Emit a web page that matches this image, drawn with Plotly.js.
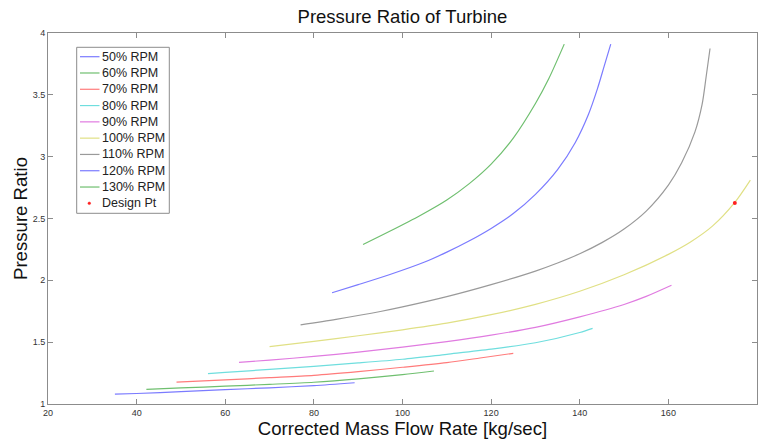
<!DOCTYPE html>
<html>
<head>
<meta charset="utf-8">
<script src="https://cdn.plot.ly/plotly-3.0.1.min.js"></script>
<style>html,body{margin:0;padding:0;background:#fff;}#chart{width:763px;height:439px;}</style>
</head>
<body>
<div id="chart"></div>
<script>
// ---- data ----
const seriesNames = ["50% RPM","60% RPM","70% RPM","80% RPM","90% RPM","100% RPM","110% RPM","120% RPM","130% RPM"];
const seriesColors = ["#7b7bff","#6fbf6f","#ff7b7b","#6fdede","#e07be0","#e0e085","#9a9a9a","#7b7bff","#6fbf6f"];

const rpm50_x = [35.1, 40, 50, 60, 70, 80, 89.2];
const rpm50_y = [1.080, 1.085, 1.100, 1.116, 1.131, 1.149, 1.172];

const rpm60_x = [42.2, 50, 60, 70, 80, 90, 100, 107.1];
const rpm60_y = [1.118, 1.130, 1.144, 1.159, 1.176, 1.203, 1.237, 1.267];

const rpm70_x = [49, 60, 70, 80, 90, 100, 110, 117.5, 125];
const rpm70_y = [1.177, 1.195, 1.213, 1.232, 1.262, 1.297, 1.335, 1.372, 1.410];

const rpm80_x = [56.1, 60, 70, 80, 90, 100, 110, 120, 130, 140, 142.9];
const rpm80_y = [1.246, 1.255, 1.280, 1.305, 1.332, 1.362, 1.402, 1.443, 1.495, 1.578, 1.612];

const rpm90_x = [63.1, 70, 80, 90, 100, 110, 120, 130, 140, 150, 155, 160.7];
const rpm90_y = [1.337, 1.355, 1.385, 1.420, 1.460, 1.505, 1.557, 1.620, 1.705, 1.805, 1.870, 1.960];

const rpm100_x = [70, 80, 90, 100, 110, 120, 130, 140, 150, 160, 165, 170, 175, 178.5];
const rpm100_y = [1.464, 1.507, 1.552, 1.600, 1.654, 1.722, 1.806, 1.912, 2.045, 2.210, 2.310, 2.440, 2.630, 2.810];

const rpm110_x = [77, 85, 95, 100, 110, 120, 130, 135, 140, 145, 150, 155, 160, 163, 166, 167.6, 168.5, 169.4];
const rpm110_y = [1.640, 1.685, 1.748, 1.785, 1.868, 1.965, 2.075, 2.140, 2.215, 2.305, 2.415, 2.560, 2.770, 2.950, 3.200, 3.420, 3.640, 3.875];

const rpm120_x = [84.1, 90, 97, 105, 110, 115, 120, 125, 130, 135, 139, 142, 144, 145.5, 147];
const rpm120_y = [1.900, 1.965, 2.045, 2.148, 2.228, 2.318, 2.420, 2.540, 2.695, 2.895, 3.115, 3.345, 3.550, 3.730, 3.910];

const rpm130_x = [91.1, 97, 104, 110, 115, 120, 125, 130, 133, 136.5];
const rpm130_y = [2.290, 2.395, 2.525, 2.650, 2.780, 2.940, 3.150, 3.430, 3.630, 3.910];

const designPt_x = [175];
const designPt_y = [2.625];

const xTickVals = [20, 40, 60, 80, 100, 120, 140, 160, 180];
const yTickVals = [1, 1.5, 2, 2.5, 3, 3.5, 4];
const yTickText = ["1", "1.5", "2", "2.5", "3", "3.5", "4"];

// ---- build ----
const allX = [rpm50_x, rpm60_x, rpm70_x, rpm80_x, rpm90_x, rpm100_x, rpm110_x, rpm120_x, rpm130_x];
const allY = [rpm50_y, rpm60_y, rpm70_y, rpm80_y, rpm90_y, rpm100_y, rpm110_y, rpm120_y, rpm130_y];

const traces = seriesNames.map((n, i) => ({
  type: "scatter", mode: "lines", name: n,
  x: allX[i], y: allY[i],
  line: {color: seriesColors[i], width: 1.2, shape: "spline", smoothing: 0.8},
  hoverinfo: "skip"
}));
traces.push({
  type: "scatter", mode: "markers", name: "Design Pt",
  x: designPt_x, y: designPt_y,
  marker: {color: "#ff2020", size: 4, symbol: "circle"},
  hoverinfo: "skip"
});

// plot area in pixels
const L = 48, R = 6, T = 33, B = 35, W = 763, H = 439;
const pw = W - L - R, ph = H - T - B;
const px = v => (v - L) / pw;
const py = v => (H - B - v) / ph;

// custom legend (MATLAB-like compact box)
const shapes = [{
  type: "rect", xref: "paper", yref: "paper",
  x0: px(76.7), x1: px(169.3), y0: py(47.3), y1: py(213.3),
  line: {color: "#8c8c8c", width: 1}, fillcolor: "#ffffff", layer: "above"
}];
const annotations = [];
const legendNames = seriesNames.concat(["Design Pt"]);
legendNames.forEach((n, i) => {
  const yc = 56.7 + 16.29 * i;
  if (i < seriesNames.length) {
    shapes.push({type: "line", xref: "paper", yref: "paper",
      x0: px(80), x1: px(99.5), y0: py(yc), y1: py(yc),
      line: {color: seriesColors[i], width: 1.2}, layer: "above"});
  } else {
    shapes.push({type: "circle", xref: "paper", yref: "paper",
      x0: px(88), x1: px(90.6), y0: py(yc - 1.3), y1: py(yc + 1.3),
      line: {color: "#ff2020", width: 0.5}, fillcolor: "#ff2020", layer: "above"});
  }
  annotations.push({xref: "paper", yref: "paper", x: px(99.5), y: py(yc),
    xanchor: "left", yanchor: "middle", showarrow: false, text: n,
    font: {family: "Arial, Liberation Sans, sans-serif", size: 12.5, color: "#222"}});
});

const axisCommon = {
  showgrid: false, zeroline: false, showline: true, linecolor: "#8c8c8c", linewidth: 1,
  mirror: "ticks", ticks: "inside", ticklen: 5, tickcolor: "#8c8c8c", tickwidth: 1,
  tickfont: {family: "Arial, Liberation Sans, sans-serif", size: 9, color: "#333"}
};

const layout = {
  width: W, height: H,
  margin: {l: L, r: R, t: T, b: B, pad: 0},
  paper_bgcolor: "#ffffff", plot_bgcolor: "#ffffff",
  showlegend: false,
  title: {text: "Pressure Ratio of Turbine", x: 0.5275, xanchor: "center", y: 0.962, yanchor: "middle",
    font: {family: "Arial, Liberation Sans, sans-serif", size: 18.5, color: "#111"}},
  xaxis: Object.assign({}, axisCommon, {
    range: [20, 180], tickvals: xTickVals, ticktext: xTickVals.map(String),
    title: {text: "Corrected Mass Flow Rate [kg/sec]", standoff: 1,
      font: {family: "Arial, Liberation Sans, sans-serif", size: 18.6, color: "#111"}}
  }),
  yaxis: Object.assign({}, axisCommon, {
    range: [1, 4], tickvals: yTickVals, ticktext: yTickText,
    title: {text: "Pressure Ratio", standoff: 0,
      font: {family: "Arial, Liberation Sans, sans-serif", size: 18.6, color: "#111"}}
  }),
  shapes: shapes,
  annotations: annotations
};

Plotly.newPlot("chart", traces, layout, {staticPlot: true, displayModeBar: false});
</script>
</body>
</html>
